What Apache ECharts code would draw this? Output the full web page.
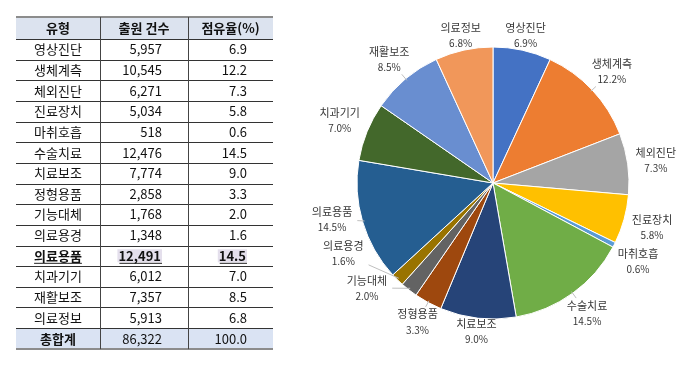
<!DOCTYPE html>
<html>
<head>
<meta charset="utf-8">
<script src="https://cdn.jsdelivr.net/npm/echarts@6/dist/echarts.min.js"></script>
<style>
  html, body { margin: 0; padding: 0; background: #fff; }
  #main { width: 700px; height: 375px; }
</style>
</head>
<body>
<div id="main"></div>
<script>
const headers = ["유형", "출원 건수", "점유율(%)"];
const names = ["영상진단", "생체계측", "체외진단", "진료장치", "마취호흡", "수술치료", "치료보조",
  "정형용품", "기능대체", "의료용경", "의료용품", "치과기기", "재활보조", "의료정보"];
const counts = [5957, 10545, 6271, 5034, 518, 12476, 7774, 2858, 1768, 1348, 12491, 6012, 7357, 5913];
const shares = [6.9, 12.2, 7.3, 5.8, 0.6, 14.5, 9.0, 3.3, 2.0, 1.6, 14.5, 7.0, 8.5, 6.8];
const totalLabel = "총합계";
const totalCount = 86322;
const totalShare = 100.0;
const highlightName = "의료용품";
const colors = ["#4472C4", "#ED7D31", "#A5A5A5", "#FFC000", "#5B9BD5", "#70AD47", "#264478",
  "#9E480E", "#636363", "#997300", "#255E91", "#43682B", "#698ED0", "#F1975A"];

const FONT = '"Noto Sans CJK KR", "Noto Sans", sans-serif';

// table layout
const tbl = { left: 16, right: 273, top: 17, headH: 22, rowH: 20.65, totH: 21, cols: [16, 100, 188, 273] };
const numRight = [162, 247];

const measure = document.createElement("canvas").getContext("2d");
function textWidth(s, weight, size) {
  measure.font = (weight || "normal") + " " + (size || 13) + "px " + FONT;
  return measure.measureText(s).width;
}

function fmt(n) { return n.toLocaleString("en-US"); }

function buildTable() {
  const g = [];
  const rowsTop = tbl.top + tbl.headH;
  const totTop = rowsTop + names.length * tbl.rowH;
  const bottom = totTop + tbl.totH;
  g.push({ type: "rect", shape: { x: tbl.left, y: tbl.top, width: tbl.right - tbl.left, height: tbl.headH }, style: { fill: "#dce3ef" } });
  g.push({ type: "rect", shape: { x: tbl.left, y: totTop, width: tbl.right - tbl.left, height: tbl.totH }, style: { fill: "#dae3f3" } });
  g.push({ type: "line", shape: { x1: tbl.left, y1: tbl.top, x2: tbl.right, y2: tbl.top }, style: { stroke: "#8c8c8c", lineWidth: 2 } });
  for (let i = 0; i <= names.length; i++) {
    const y = Math.round(rowsTop + i * tbl.rowH) + 0.5;
    g.push({ type: "line", shape: { x1: tbl.left, y1: y, x2: tbl.right, y2: y }, style: { stroke: "#333", lineWidth: 1 } });
  }
  g.push({ type: "line", shape: { x1: tbl.left, y1: bottom, x2: tbl.right, y2: bottom }, style: { stroke: "#8c8c8c", lineWidth: 2 } });
  [tbl.cols[1], tbl.cols[2]].forEach(x => {
    g.push({ type: "line", shape: { x1: x + 0.5, y1: tbl.top, x2: x + 0.5, y2: bottom }, style: { stroke: "#444", lineWidth: 1 } });
  });
  function txt(s, x, y, align, bold, bg) {
    const el = { type: "text", x: x, y: y, style: { text: s, font: (bold ? "bold " : "") + "13px " + FONT, fill: "#111", align: align, verticalAlign: "middle" } };
    if (bg) { el.style.backgroundColor = bg; el.style.padding = [0, 1, 0, 1]; }
    g.push(el);
  }
  function underline(s, x, y, align) {
    const w = textWidth(s, "bold");
    const x1 = align === "center" ? x - w / 2 : x - w;
    g.push({ type: "line", shape: { x1: x1, y1: y + 7.5, x2: x1 + w, y2: y + 7.5 }, style: { stroke: "#222", lineWidth: 1 } });
  }
  const c1 = (tbl.cols[0] + tbl.cols[1]) / 2;
  const hy = tbl.top + tbl.headH / 2;
  txt(headers[0], c1, hy, "center", true);
  txt(headers[1], (tbl.cols[1] + tbl.cols[2]) / 2, hy, "center", true);
  txt(headers[2], (tbl.cols[2] + tbl.cols[3]) / 2, hy, "center", true);
  names.forEach((n, i) => {
    const y = rowsTop + (i + 0.5) * tbl.rowH;
    const hl = n === highlightName;
    const bg = hl ? "#e4dfec" : null;
    const a = fmt(counts[i]);
    const b = shares[i].toFixed(1);
    txt(n, c1, y, "center", hl);
    txt(a, numRight[0], y, "right", hl, bg);
    txt(b, numRight[1], y, "right", hl, bg);
    if (hl) {
      underline(n, c1, y, "center");
      underline(a, numRight[0], y, "right");
      underline(b, numRight[1], y, "right");
    }
  });
  const ty = totTop + tbl.totH / 2;
  txt(totalLabel, c1, ty, "center", true);
  txt(fmt(totalCount), numRight[0], ty, "right", false);
  txt(totalShare.toFixed(1), numRight[1], ty, "right", false);
  return g;
}

// pie label placement: along the slice's middle ray, just clear of the circle;
// each label is pushed clockwise until it clears the previous one
const pie = { cx: 493, cy: 183, r: 136, margin: 2, padX: 5, halfH: 17 };
function computeLabels() {
  const sum = counts.reduce((a, b) => a + b, 0);
  let acc = 0;
  const mids = counts.map(v => { const m = (acc + v / 2) / sum * Math.PI * 2; acc += v; return m; });
  const sizes = names.map((n, i) => ({
    w: Math.max(textWidth(n, "normal", 11), textWidth(shares[i].toFixed(1) + "%", "normal", 10)) + pie.padX * 2,
    h: 20
  }));
  function nearest(x, y, s) {
    const nx = Math.max(Math.abs(x) - s.w / 2, 0), ny = Math.max(Math.abs(y) - s.h / 2, 0);
    return Math.hypot(nx, ny);
  }
  function box(i, a) {
    const s = sizes[i];
    let d = pie.r;
    while (nearest(d * Math.sin(a), d * Math.cos(a), s) < pie.r + pie.margin) d += 0.5;
    const x = pie.cx + d * Math.sin(a), y = pie.cy - d * Math.cos(a);
    return { x: x, y: y, x0: x - s.w / 2, x1: x + s.w / 2, y0: y - pie.halfH, y1: y + pie.halfH };
  }
  function hit(a, b) { return a.x0 < b.x1 && b.x0 < a.x1 && a.y0 < b.y1 && b.y0 < a.y1; }
  const boxes = [];
  names.forEach((n, i) => {
    let a = mids[i];
    let b = box(i, a);
    while (i > 0 && hit(b, boxes[i - 1])) { a += 0.005; b = box(i, a); }
    boxes.push(b);
  });
  return boxes.map((b, i) => {
    const s = sizes[i];
    const p0 = [pie.cx + (pie.r - 2) * Math.sin(mids[i]), pie.cy - (pie.r - 2) * Math.cos(mids[i])];
    const dx = p0[0] - b.x, dy = p0[1] - b.y;
    const t = Math.min((s.w / 2) / Math.abs(dx || 1e-6), 15 / Math.abs(dy || 1e-6));
    const p1 = [b.x + dx * t, b.y + dy * t];
    const len = t < 1 ? Math.hypot(p0[0] - p1[0], p0[1] - p1[1]) : 0;
    return { x: b.x, y: b.y, line: len > 6 ? [p0, p1] : null };
  });
}
const labelPos = computeLabels();

function leaderLines() {
  return labelPos.filter(p => p.line).map(p => ({
    type: "polyline",
    z: 10,
    shape: { points: p.line },
    style: { stroke: "#bfbfbf", lineWidth: 1, fill: null }
  }));
}

const pieData = names.map((n, i) => ({ name: n, value: counts[i], itemStyle: { color: colors[i] } }));

const option = {
  animation: false,
  textStyle: { fontFamily: FONT },
  graphic: buildTable().concat(leaderLines()),
  series: [{
    type: "pie",
    center: [pie.cx, pie.cy],
    radius: pie.r,
    startAngle: 90,
    clockwise: true,
    data: pieData,
    itemStyle: { borderColor: "#fff", borderWidth: 1 },
    label: {
      show: true,
      position: "outside",
      overflow: "none",
      formatter: p => "{n|" + p.name + "}\n{p|" + shares[p.dataIndex].toFixed(1) + "%}",
      rich: {
        n: { fontSize: 11, color: "#383838", align: "center", lineHeight: 16, fontFamily: FONT },
        p: { fontSize: 10, color: "#383838", align: "center", lineHeight: 15, fontFamily: FONT }
      }
    },
    labelLine: { show: true, lineStyle: { opacity: 0 } },
    labelLayout: params => {
      const p = labelPos[params.dataIndex];
      return { x: p.x, y: p.y, align: "center", verticalAlign: "middle" };
    }
  }]
};

const chart = echarts.init(document.getElementById("main"));
chart.setOption(option);
</script>
</body>
</html>
